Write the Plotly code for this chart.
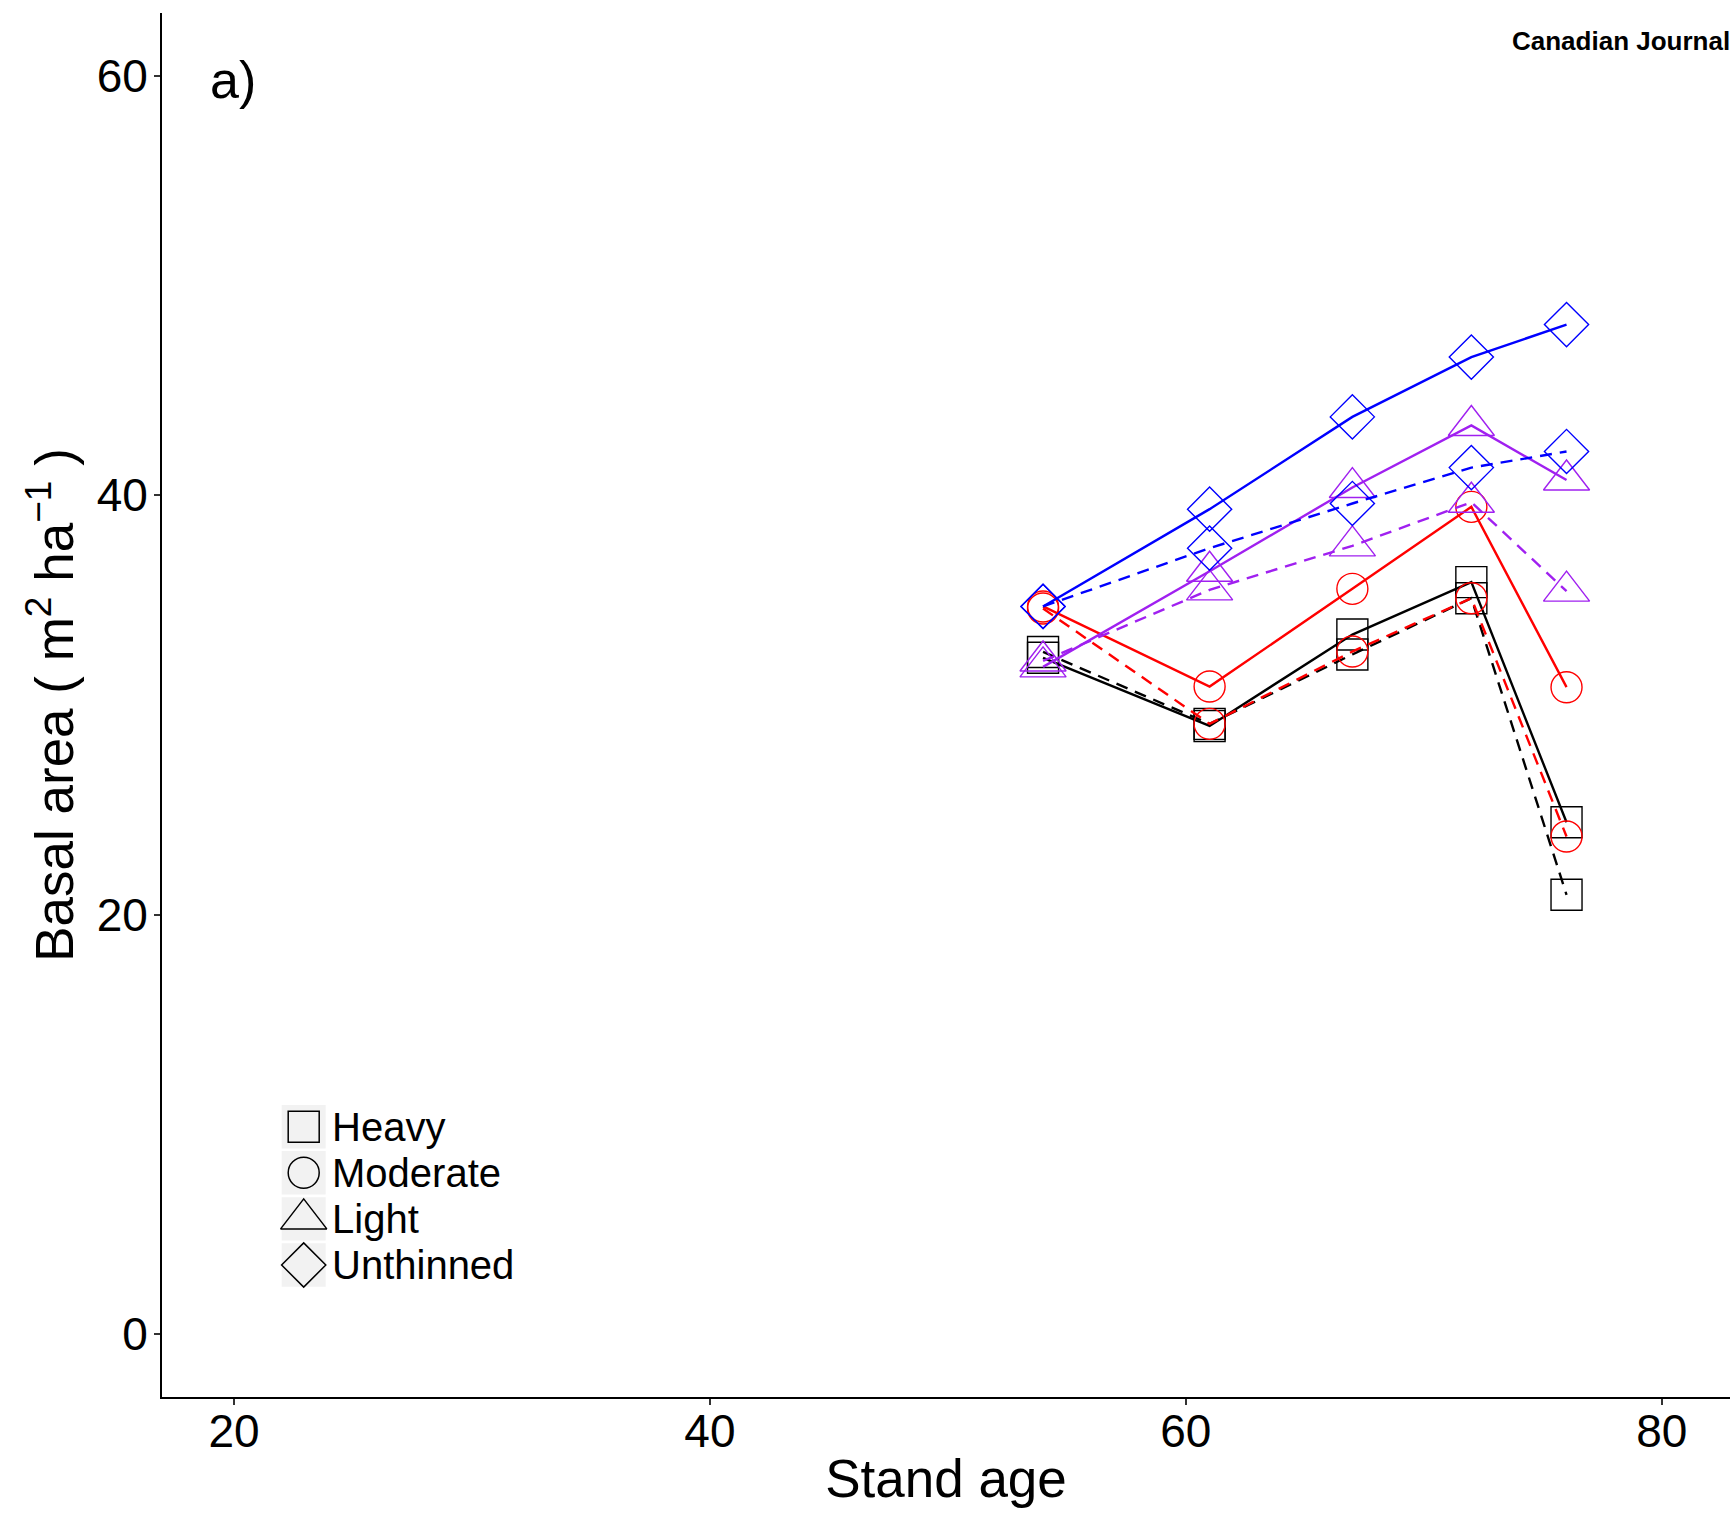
import plotly.graph_objects as go

# Stand ages at which basal area was measured
stand_age = [54, 61, 67, 72, 76]

# Basal area (m2/ha) per thinning treatment, solid and dashed series
heavy_solid = [32.25, 29.0, 33.36, 35.86, 24.41]
heavy_dashed = [32.53, 29.1, 32.41, 35.09, 20.95]
moderate_solid = [34.7, 30.88, 35.54, 39.45, 30.85]
moderate_dashed = [34.6, 29.1, 32.55, 35.09, 23.73]
light_solid = [31.82, 36.38, 40.37, 43.33, 40.73]
light_dashed = [32.1, 35.49, 37.59, 39.67, 35.43]
unthinned_solid = [34.7, 39.34, 43.74, 46.59, 48.14]
unthinned_dashed = [34.7, 37.48, 39.61, 41.32, 42.09]

treatments = ["Heavy", "Moderate", "Light", "Unthinned"]
x_ticks = [20, 40, 60, 80]
y_ticks = [0, 20, 40, 60]

series = {
    "Heavy": (heavy_solid, heavy_dashed),
    "Moderate": (moderate_solid, moderate_dashed),
    "Light": (light_solid, light_dashed),
    "Unthinned": (unthinned_solid, unthinned_dashed),
}

colors = {"Heavy": "#000000", "Moderate": "#FF0000", "Light": "#A020F0", "Unthinned": "#0000FF"}
symbols = {"Heavy": "square-open", "Moderate": "circle-open",
           "Light": "triangle-up-open", "Unthinned": "diamond-open"}
sizes = {"Heavy": 31, "Moderate": 31, "Light": 40, "Unthinned": 34}

FONT = "Liberation Sans, Arial, Helvetica, sans-serif"
W, H = 1730, 1516
ML, MR, MT, MB = 162, 0, 13, 119
PW, PH = W - ML - MR, H - MT - MB


def paper_x(px):
    return (px - ML) / PW


def paper_y(py):
    return (H - MB - py) / PH


fig = go.Figure()

for t in treatments:
    solid, dashed = series[t]
    for vals, dash in ((solid, "solid"), (dashed, "12px,8px")):
        fig.add_trace(go.Scatter(
            x=stand_age, y=vals, mode="lines+markers", name=t, showlegend=False,
            line=dict(color=colors[t], width=2.4, dash=dash),
            marker=dict(symbol=symbols[t], size=sizes[t], color=colors[t],
                        line=dict(color=colors[t], width=1.4)),
        ))

# Legend drawn inside the panel: grey key boxes, black open symbols, labels
key_cx, key_w, key_h = 303.7, 44, 43.4
key_top, key_step = 1126.7, 46.1
shapes = []
annotations = []
for i, t in enumerate(treatments):
    cy = key_top + i * key_step
    shapes.append(dict(type="rect", xref="paper", yref="paper",
                       x0=paper_x(key_cx - key_w / 2), x1=paper_x(key_cx + key_w / 2),
                       y0=paper_y(cy + key_h / 2), y1=paper_y(cy - key_h / 2),
                       fillcolor="#F2F2F2", line=dict(width=0), layer="below"))
    fig.add_trace(go.Scatter(
        x=[paper_x(key_cx)], y=[paper_y(cy)], xaxis="x2", yaxis="y2",
        mode="markers", showlegend=False, hoverinfo="skip",
        marker=dict(symbol=symbols[t], size=sizes[t], color="black",
                    line=dict(color="black", width=1.5)),
    ))
    annotations.append(dict(text=t, xref="paper", yref="paper",
                            x=paper_x(330), y=paper_y(cy), xanchor="left", yanchor="middle",
                            showarrow=False, font=dict(family=FONT, size=40, color="black")))

annotations.append(dict(text="a)", xref="paper", yref="paper",
                        x=paper_x(208), y=paper_y(80), xanchor="left", yanchor="middle",
                        showarrow=False, font=dict(family=FONT, size=52, color="black")))
annotations.append(dict(text="<b>Canadian Journal</b>", xref="paper", yref="paper",
                        x=paper_x(1510), y=paper_y(41), xanchor="left", yanchor="middle",
                        showarrow=False, font=dict(family=FONT, size=26, color="black")))

axis_common = dict(
    showline=True, linecolor="black", linewidth=2, mirror=False,
    ticks="outside", ticklen=6, tickwidth=2, tickcolor="#333333",
    showgrid=False, zeroline=False, automargin=False,
    tickfont=dict(family=FONT, size=46, color="black"),
)

fig.update_layout(
    width=W, height=H,
    margin=dict(l=ML, r=MR, t=MT, b=MB),
    paper_bgcolor="white", plot_bgcolor="white",
    font=dict(family=FONT, color="black"),
    xaxis=dict(range=[16.974, 82.87], tickvals=x_ticks, ticklabelstandoff=-13,
               title=dict(text="Stand age", font=dict(family=FONT, size=53), standoff=4),
               **axis_common),
    yaxis=dict(range=[-3, 63], tickvals=y_ticks, ticklabelstandoff=-3,
               title=dict(text="Basal area ( m<sup>2</sup> ha<sup>\u22121</sup> )",
                          font=dict(family=FONT, size=53), standoff=6),
               **axis_common),
    xaxis2=dict(overlaying="x", range=[0, 1], visible=False, fixedrange=True),
    yaxis2=dict(overlaying="y", range=[0, 1], visible=False, fixedrange=True),
    shapes=shapes,
    annotations=annotations,
    showlegend=False,
)

fig.write_html("out.html")
